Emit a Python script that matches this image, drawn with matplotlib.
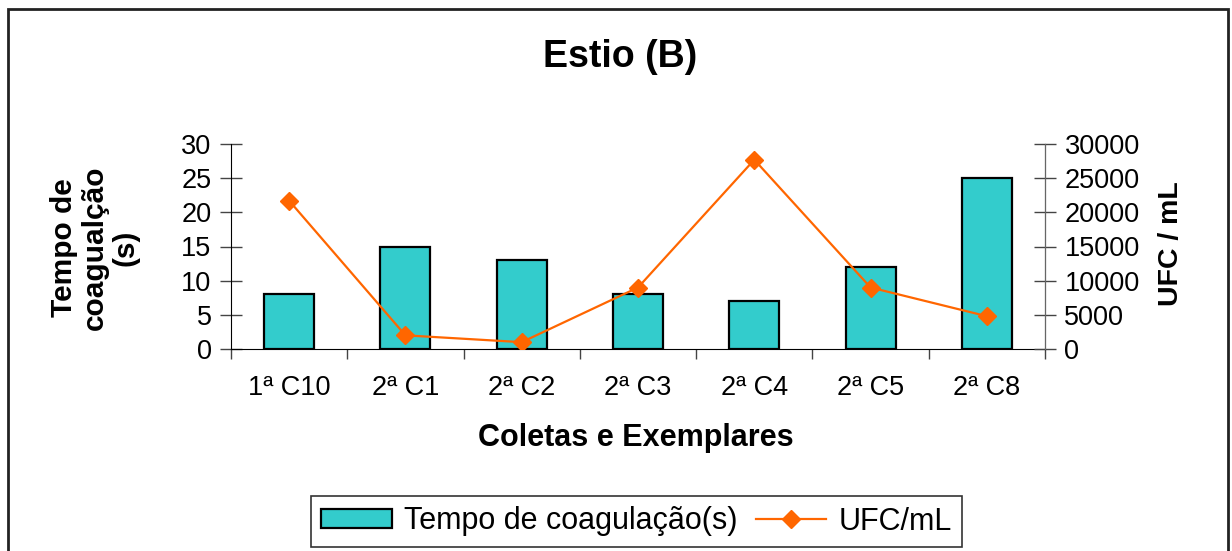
import matplotlib
matplotlib.use("Agg")
import matplotlib.pyplot as plt
import matplotlib.patches as mpatches
from matplotlib.lines import Line2D
import numpy as np

plt.rcParams['font.family'] = ['Liberation Sans', 'DejaVu Sans']

categories = ["1ª C10", "2ª C1", "2ª C2", "2ª C3", "2ª C4", "2ª C5", "2ª C8"]
tempo = [8, 15, 13, 8, 7, 12, 25]
ufc = [21700, 2000, 1000, 9000, 27700, 9000, 4800]
left_ticks = [0, 5, 10, 15, 20, 25, 30]
right_ticks = [0, 5000, 10000, 15000, 20000, 25000, 30000]

W, H = 1232, 551
fig = plt.figure(figsize=(W/100, H/100), dpi=100)

def fx(px): return px / W
def fy(py): return 1 - py / H

ax = fig.add_axes([fx(231), fy(349), fx(1045) - fx(231), fy(144) - fy(349)])
ax2 = ax.twinx()

x = np.arange(len(categories))
ax.bar(x, tempo, width=0.43, color="#33CCCC", edgecolor="black", linewidth=1.6, zorder=2)
ax2.plot(x, ufc, color="#FF6600", lw=1.6, marker="D", markersize=9, zorder=3)

ax.set_xlim(-0.5, len(categories) - 0.5)
ax.set_ylim(0, 30)
ax2.set_ylim(0, 30000)
ax.set_yticks(left_ticks)
ax2.set_yticks(right_ticks)

ax.set_xticks(np.arange(-0.5, len(categories), 1.0))
ax.set_xticklabels([])
ax.set_xticks(x, minor=True)
ax.set_xticklabels(categories, minor=True)
ax.tick_params(axis='x', which='major', direction='out', length=7, width=1, color='#444444')
ax.tick_params(axis='x', which='minor', length=0, pad=19, labelsize=19.5)
ax.tick_params(axis='y', direction='inout', length=16, width=1, color='#444444', pad=6, labelsize=19.5)
ax2.tick_params(axis='y', direction='inout', length=16, width=1, color='#444444', pad=6, labelsize=19.5)

for a in (ax, ax2):
    a.spines['top'].set_visible(False)
ax.spines['left'].set_color('black')
ax2.spines['right'].set_color('#666666')
ax.spines['bottom'].set_color('black')
ax2.spines['left'].set_visible(False)
ax2.spines['bottom'].set_visible(False)
ax.set_zorder(1)
ax2.set_zorder(2)
ax2.patch.set_visible(False)

fig.text(fx(620), fy(57), "Estio (B)", ha='center', va='center', fontsize=27, fontweight='bold')
fig.text(fx(636), fy(438), "Coletas e Exemplares", ha='center', va='center', fontsize=22, fontweight='bold')
fig.text(fx(95), fy(248), "Tempo de\ncoagualção\n(s)", ha='center', va='center', rotation=90,
         fontsize=21.5, fontweight='bold', linespacing=1.13)
fig.text(fx(1171), fy(244), "UFC / mL", ha='center', va='center', rotation=90,
         fontsize=20.5, fontweight='bold')

handles = [mpatches.Patch(facecolor="#33CCCC", edgecolor="black", linewidth=1.6),
           Line2D([0], [0], color="#FF6600", lw=1.6, marker="D", markersize=9)]
leg = fig.legend(handles, ["Tempo de coagulação(s)", "UFC/mL"], loc='center',
                 bbox_to_anchor=(fx(636.5), fy(521.5)), ncol=2, fontsize=22,
                 frameon=True, fancybox=False, edgecolor='black', handlelength=2.3,
                 handleheight=0.6, columnspacing=0.6, handletextpad=0.4, borderpad=0.35)
leg.get_frame().set_linewidth(1.2)

frame = mpatches.Rectangle((fx(8), -0.02), fx(1228) - fx(8), fy(9) + 0.02, transform=fig.transFigure,
                           fill=False, edgecolor='#222222', linewidth=2)
fig.patches.append(frame)

fig.savefig("out.png", dpi=100)
